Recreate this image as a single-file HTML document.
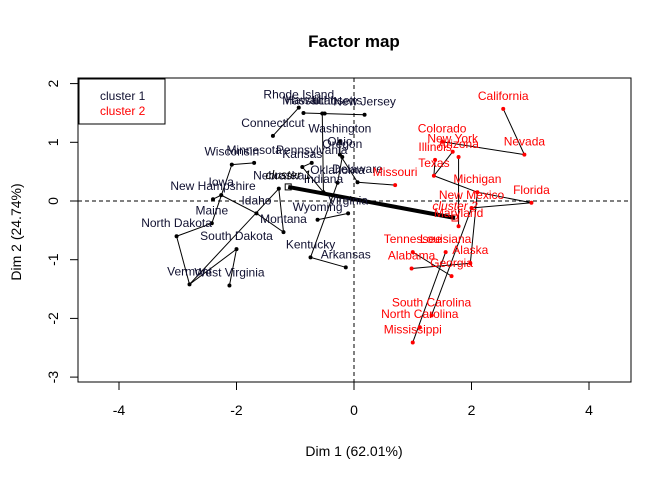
<!DOCTYPE html>
<html><head><meta charset="utf-8"><style>
body{margin:0;background:#fff;}
svg{display:block;font-family:"Liberation Sans",Arial,sans-serif;}
</style></head><body>
<svg id="chart" width="672" height="480">
<text x="354" y="47" text-anchor="middle" font-size="17" font-weight="bold">Factor map</text>
<rect x="78" y="78" width="553" height="304" fill="none" stroke="#000"/>
<g id="axes"></g>
<g id="tree"></g>
<g id="marks"></g>
<text x="354" y="456" text-anchor="middle" font-size="14">Dim 1 (62.01%)</text>
<text x="21" y="232" text-anchor="middle" font-size="14" transform="rotate(-90 21 232)">Dim 2 (24.74%)</text>
<g>
<rect x="79" y="79" width="86" height="45" fill="#fff" stroke="#000"/>
<text x="100" y="100" font-size="12" fill="#101030">cluster 1</text>
<text x="100" y="115" font-size="12" fill="#f00">cluster 2</text>
</g>
</svg>
<script>
const xTicks=[-4,-2,0,2,4];
const yTicks=[-3,-2,-1,0,1,2];
const names=["Hawaii","Rhode Island","Massachusetts","Utah","New Jersey","Connecticut","Washington","Ohio","Oregon","Pennsylvania","Delaware","Kansas","Oklahoma","Nebraska","Indiana","Virginia","Wisconsin","Minnesota","Iowa","New Hampshire","Maine","Idaho","Montana","North Dakota","South Dakota","Vermont","West Virginia","Wyoming","Kentucky","Arkansas",
"California","Nevada","Colorado","New York","Arizona","Illinois","Texas","Missouri","Michigan","New Mexico","Florida","Maryland","Louisiana","Alaska","Tennessee","Alabama","Georgia","South Carolina","North Carolina","Mississippi"];
const dim1=[-0.86,-0.94,-0.54,-0.50,0.18,-1.38,-0.24,-0.24,-0.20,-0.72,0.06,-0.88,-0.28,-1.28,-0.52,-0.10,-2.08,-1.70,-2.26,-2.40,-2.42,-1.66,-1.20,-3.02,-2.00,-2.80,-2.12,-0.62,-0.74,-0.14,
2.54,2.90,1.50,1.68,1.78,1.38,1.36,0.70,2.10,2.00,3.02,1.78,1.56,1.98,1.00,0.98,1.66,1.32,1.12,1.00];
const dim2=[1.50,1.59,1.49,1.49,1.47,1.11,1.01,0.79,0.75,0.65,0.32,0.58,0.31,0.21,0.15,-0.21,0.62,0.65,0.10,0.03,-0.38,-0.21,-0.53,-0.60,-0.82,-1.42,-1.44,-0.32,-0.96,-1.13,
1.57,0.79,1.01,0.84,0.75,0.70,0.43,0.27,0.15,-0.12,-0.03,-0.43,-0.87,-1.06,-0.87,-1.15,-1.28,-1.95,-2.15,-2.41];
const clusters=[1,1,1,1,1,1,1,1,1,1,1,1,1,1,1,1,1,1,1,1,1,1,1,1,1,1,1,1,1,1,2,2,2,2,2,2,2,2,2,2,2,2,2,2,2,2,2,2,2,2];
const centerNames=["cluster 1","cluster 2"];
const centerDim1=[-1.12,1.72];
const centerDim2=[0.24,-0.29];
const edges=[["Connecticut","Rhode Island"],["Hawaii","New Jersey"],["Massachusetts","Indiana"],["Washington","Ohio"],["Ohio","Delaware"],["Oregon","Oklahoma"],["Pennsylvania","Kansas"],["Kansas","Indiana"],["Nebraska","Montana"],["Wisconsin","Minnesota"],["Wisconsin","Maine"],["Iowa","Idaho"],["New Hampshire","Iowa"],["Maine","North Dakota"],["Nebraska","Vermont"],["North Dakota","Vermont"],["South Dakota","West Virginia"],["Vermont","South Dakota"],["Wyoming","Virginia"],["Kentucky","Arkansas"],["Oklahoma","Kentucky"],["Montana","Idaho"],
["California","Nevada"],["Colorado","Nevada"],["Illinois","Texas"],["Texas","Michigan"],["Arizona","Maryland"],["Michigan","Florida"],["New Mexico","Florida"],["Missouri","Delaware"],["Tennessee","Georgia"],["Alabama","Alaska"],["Louisiana","Mississippi"],["South Carolina","New Mexico"],["Alaska","Michigan"],["New York","Texas"]];
const X=v=>354+v*58.75, Y=v=>201-v*58.7;
const NS="http://www.w3.org/2000/svg";
function mk(t,a,p){const e=document.createElementNS(NS,t);for(const k in a)e.setAttribute(k,a[k]);p.appendChild(e);return e;}
const ax=document.getElementById('axes');
xTicks.forEach(t=>{
 const l=mk('line',{x1:X(t),x2:X(t),y1:382,y2:390,stroke:'#000'},ax);
 
 
 const tx=mk('text',{x:X(t),y:415,'text-anchor':'middle','font-size':14},ax);tx.textContent=t;
 
 
});
yTicks.forEach(t=>{
 const l=mk('line',{x1:70,x2:78,y1:Y(t),y2:Y(t),stroke:'#000'},ax);
 
 
 const tx=mk('text',{x:0,y:0,'text-anchor':'middle','font-size':14,transform:`translate(58 ${Y(t)}) rotate(-90)`},ax);tx.textContent=t;
 
 
});
mk('line',{x1:X(0),x2:X(0),y1:78,y2:382,stroke:'#000','stroke-dasharray':'4,3'},ax);
mk('line',{x1:78,x2:631,y1:Y(0),y2:Y(0),stroke:'#000','stroke-dasharray':'4,3'},ax);
const tree=document.getElementById('tree');
edges.forEach(([a,b])=>{const i=names.indexOf(a),j=names.indexOf(b);
 const l=mk('line',{x1:X(dim1[i]),y1:Y(dim2[i]),x2:X(dim1[j]),y2:Y(dim2[j]),stroke:'#000','stroke-width':1},tree);
 
 
});
const th=mk('line',{x1:X(centerDim1[0]),y1:Y(centerDim2[0]),x2:X(centerDim1[1]),y2:Y(centerDim2[1]),stroke:'#000','stroke-width':4},tree);


const m=document.getElementById('marks');
names.forEach((n,i)=>{
 const col=clusters[i]===1?'#000':'#f00', tcol=clusters[i]===1?'#101030':'#f00';
 const c=mk('circle',{cx:X(dim1[i]),cy:Y(dim2[i]),r:2,fill:col},m);
 
 
 const t=mk('text',{x:X(dim1[i]),y:Y(dim2[i])-9,'text-anchor':'middle','font-size':12,fill:tcol},m);t.textContent=n;
 
 
});
centerNames.forEach((n,i)=>{
 const col=i===0?'#000':'#f00';
 const r=mk('rect',{x:X(centerDim1[i])-3,y:Y(centerDim2[i])-3,width:6,height:6,fill:'none',stroke:col},m);
 
 
 const t=mk('text',{x:X(centerDim1[i]),y:Y(centerDim2[i])-8,'text-anchor':'middle','font-size':12,'font-style':'italic',fill:col},m);t.textContent=n;
 
 
});
</script>
</body></html>
